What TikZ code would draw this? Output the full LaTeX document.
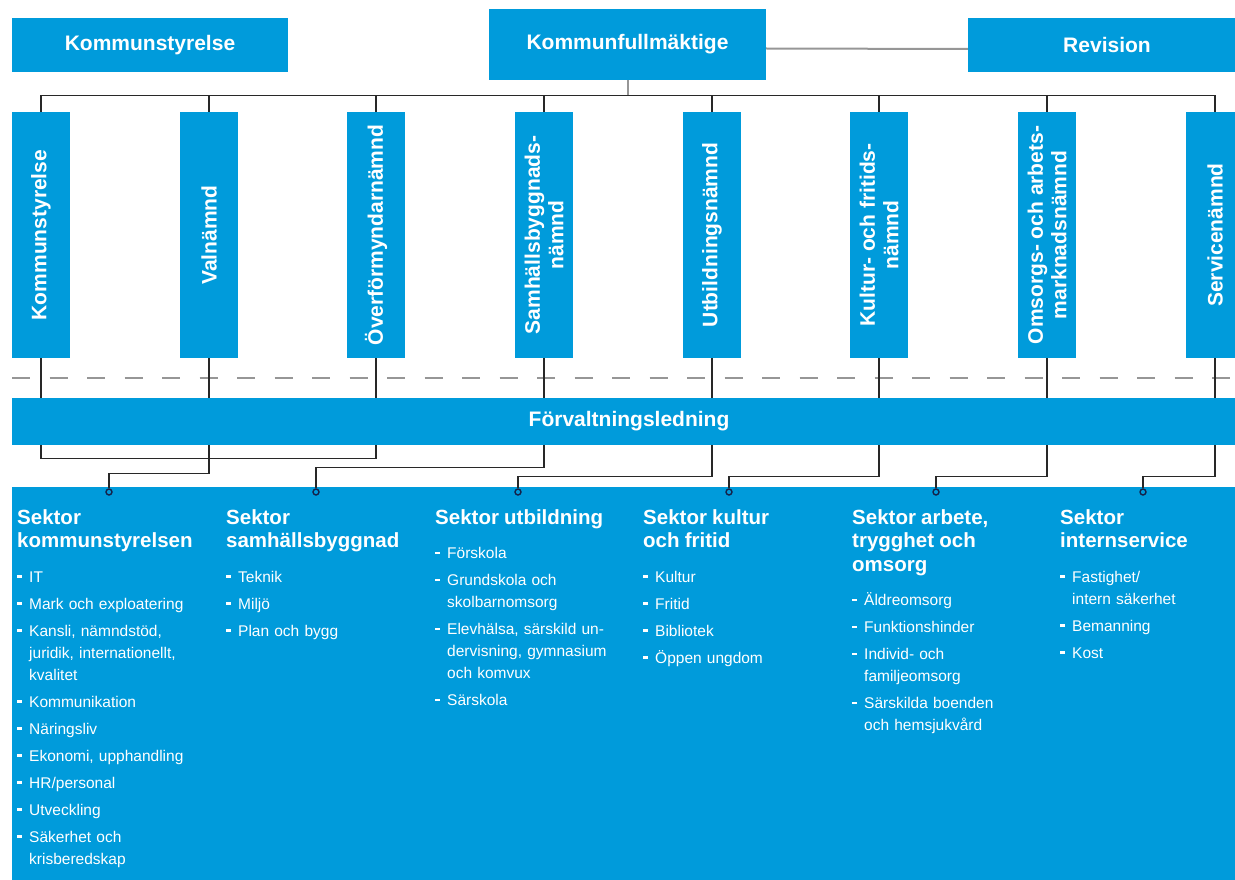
\documentclass[tikz,border=0pt]{standalone}
\usepackage{fontspec}
\setmainfont{Liberation Sans}
\usetikzlibrary{positioning}
\definecolor{kblue}{RGB}{0,155,219}
\definecolor{linegray}{RGB}{150,150,150}
\definecolor{linedark}{RGB}{40,40,40}
\definecolor{dotnavy}{RGB}{20,35,75}
\newcommand{\sekhead}[1]{{\fontsize{20.5}{23.5}\selectfont\bfseries #1\par}\vspace{7.5pt}}
\newcommand{\punkt}[1]{\hangindent=12pt\hangafter=1\noindent\makebox[12pt][l]{\rule[4.5pt]{5pt}{2.5pt}}#1\par}
\tikzset{
  kbox/.style={fill=kblue,text=white,inner sep=0pt,font=\fontsize{21}{23}\selectfont\bfseries},
  nbox/.style={fill=kblue,text=white,rotate=90,minimum width=246pt,minimum height=58pt,inner sep=0pt,align=center,font=\fontsize{21}{23.5}\selectfont\bfseries},
  sektor/.style={anchor=north west,text=white,inner sep=0pt,text width=200pt,align=left,font=\fontsize{15.5}{22}\selectfont,execute at begin node=\setlength{\parskip}{5pt}},
  sdot/.style={circle,draw=dotnavy,fill=kblue,line width=1.4pt,minimum size=6pt,inner sep=0pt},
  tree/.style={draw=linedark,line width=1.4pt},
  gline/.style={draw=linegray,line width=2pt},
  dashline/.style={draw=linegray,line width=2pt,dash pattern=on 18pt off 19.5pt}
}
\begin{document}
\begin{tikzpicture}[x=1pt,y=-1pt]
\useasboundingbox (0,0) rectangle (1235,880);
\clip (0,0) rectangle (1235,880);

\node[kbox,minimum width=276pt,minimum height=54pt] (ks) at (150,45) {Kommunstyrelse};
\node[kbox,minimum width=277pt,minimum height=71pt] (kf) at (627.5,44.5) {Kommunfullmäktige};
\node[kbox,minimum width=278pt,minimum height=54pt] (rev) at (1107,45) {Revision};

\node[nbox] (vks) at (41,235) {Kommunstyrelse};
\node[nbox] (vval) at (209,235) {Valnämnd};
\node[nbox] (vof) at (376,235) {Överförmyndarnämnd};
\node[nbox] (vsbn) at (544,235) {Samhällsbyggnads-\\nämnd};
\node[nbox] (vutb) at (712,235) {Utbildningsnämnd};
\node[nbox] (vkfn) at (879,235) {Kultur- och fritids-\\nämnd};
\node[nbox] (voan) at (1047,235) {Omsorgs- och arbets-\\marknadsnämnd};
\node[nbox] (vsrv) at (1215,235) {Servicenämnd};

\draw[gline] ([yshift=-4pt]kf.east) -- ([yshift=-4pt]rev.west);
\draw[gline] (kf.south) -- ++(0,16);
\draw[tree] (vks.east) -- ++(0,-16) -| (vsrv.east);
\draw[tree] (vval.east) -- ++(0,-16);
\draw[tree] (vof.east) -- ++(0,-16);
\draw[tree] (vsbn.east) -- ++(0,-16);
\draw[tree] (vutb.east) -- ++(0,-16);
\draw[tree] (vkfn.east) -- ++(0,-16);
\draw[tree] (voan.east) -- ++(0,-16);

\draw[dashline] (12,378) -- (1235,378);

\fill[kblue] (12,487) rectangle (1246,880);
\node[sdot] (dks) at (109,492) {};
\node[sdot] (dsb) at (316,492) {};
\node[sdot] (dutb) at (518,492) {};
\node[sdot] (dkul) at (729,492) {};
\node[sdot] (darb) at (936,492) {};
\node[sdot] (dint) at (1143,492) {};

\draw[tree] (vks.west) -- ++(0,100) -| (vof.west);
\draw[tree] (vval.west) -- ++(0,115) -| (dks.north);
\draw[tree] (vsbn.west) -- ++(0,109) -| (dsb.north);
\draw[tree] (vutb.west) -- ++(0,118) -| (dutb.north);
\draw[tree] (vkfn.west) -- ++(0,118) -| (dkul.north);
\draw[tree] (voan.west) -- ++(0,118) -| (darb.north);
\draw[tree] (vsrv.west) -- ++(0,118) -| (dint.north);

\node[kbox,minimum width=1234pt,minimum height=47pt] (forv) at (629,421.5) {Förvaltningsledning};

\node[sektor] (sks) at (17,509) {\sekhead{Sektor\\kommunstyrelsen}
\punkt{IT}
\punkt{Mark och exploatering}
\punkt{Kansli, nämndstöd,\newline juridik, internationellt,\newline kvalitet}
\punkt{Kommunikation}
\punkt{Näringsliv}
\punkt{Ekonomi, upphandling}
\punkt{HR/personal}
\punkt{Utveckling}
\punkt{Säkerhet och\newline krisberedskap}};
\node[sektor] (ssb) at (226,509) {\sekhead{Sektor\\samhällsbyggnad}
\punkt{Teknik}
\punkt{Miljö}
\punkt{Plan och bygg}};
\node[sektor] (sutb) at (435,509) {\sekhead{Sektor utbildning}
\punkt{Förskola}
\punkt{Grundskola och\newline skolbarnomsorg}
\punkt{Elevhälsa, särskild un-\newline dervisning, gymnasium\newline och komvux}
\punkt{Särskola}};
\node[sektor] (skul) at (643,509) {\sekhead{Sektor kultur\\och fritid}
\punkt{Kultur}
\punkt{Fritid}
\punkt{Bibliotek}
\punkt{Öppen ungdom}};
\node[sektor] (sarb) at (852,509) {\sekhead{Sektor arbete,\\trygghet och\\omsorg}
\punkt{Äldreomsorg}
\punkt{Funktionshinder}
\punkt{Individ- och\newline familjeomsorg}
\punkt{Särskilda boenden\newline och hemsjukvård}};
\node[sektor] (sint) at (1060,509) {\sekhead{Sektor\\internservice}
\punkt{Fastighet/\newline intern säkerhet}
\punkt{Bemanning}
\punkt{Kost}};
\end{tikzpicture}
\end{document}
